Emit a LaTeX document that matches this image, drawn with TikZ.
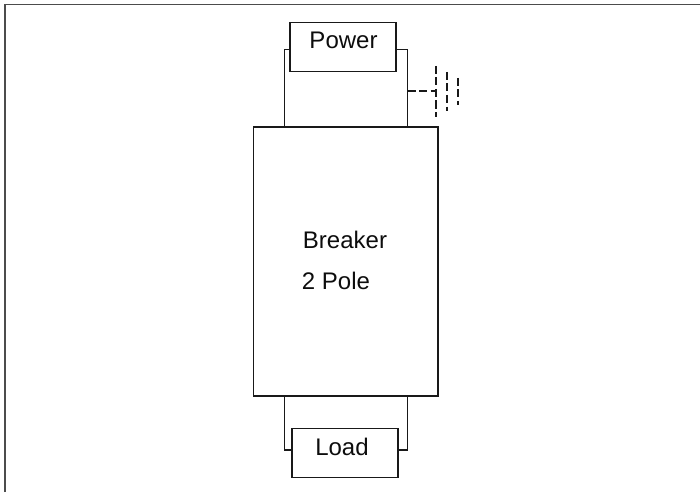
\documentclass[tikz,border=0pt]{standalone}
\usepackage{fontspec}
\setmainfont{Liberation Sans}
\tikzset{
  box/.style={draw=black!90,line width=1.6pt,fill=none,inner sep=0pt},
  wire/.style={draw=black!90,line width=1.6pt,line join=miter},
  gnd/.style={draw=black!90,line width=1.5pt,dash pattern=on 8pt off 3.5pt},
  frameline/.style={draw=black!70,line width=1.5pt},
  lbl/.style={font=\fontsize{24}{28}\selectfont,inner sep=0pt,text=black!95}
}
\begin{document}
\begin{tikzpicture}[x=1pt,y=-1pt]
\useasboundingbox (0,0) rectangle (700,492);
\coordinate (fa) at (5,492);
\coordinate (fb) at (5,4.5);
\coordinate (fc) at (700,4.5);
\draw[frameline] (fa) -- (fb) -- (fc);
\node[box,minimum width=106pt,minimum height=49pt] (power) at (343,47) {};
\node[box,minimum width=184.5pt,minimum height=269pt] (breaker) at (345.7,261.5) {};
\node[box,minimum width=106pt,minimum height=49pt] (load) at (345,453) {};
\node[lbl] (tp) at (343.5,40.5) {Power};
\node[lbl] (tb) at (345,240) {Breaker};
\node[lbl] (t2) at (336,281) {2 Pole};
\node[lbl] (tl) at (342,447) {Load};
\coordinate (pl) at (284.5,49.5);
\coordinate (pr) at (407.5,49.5);
\coordinate (bl) at (284.5,127);
\coordinate (br) at (407.5,127);
\coordinate (dl) at (284.5,396);
\coordinate (dr) at (407.5,396);
\coordinate (ll) at (284.5,450);
\coordinate (lr) at (407.5,450);
\draw[wire] (power.west |- pl) -- (pl) -- (bl);
\draw[wire] (power.east |- pr) -- (pr) -- (br);
\draw[wire] (dl) -- (ll) -- (load.west |- ll);
\draw[wire] (dr) -- (lr) -- (load.east |- lr);
\coordinate (g0) at (407.5,91);
\coordinate (g1) at (436,91);
\coordinate (g1a) at (436,66);
\coordinate (g1b) at (436,117);
\coordinate (g2a) at (447,72);
\coordinate (g2b) at (447,111);
\coordinate (g3a) at (458,78);
\coordinate (g3b) at (458,105);
\draw[gnd] (g0) -- (g1);
\draw[gnd] (g1a) -- (g1b);
\draw[gnd] (g2a) -- (g2b);
\draw[gnd] (g3a) -- (g3b);
\end{tikzpicture}
\end{document}
